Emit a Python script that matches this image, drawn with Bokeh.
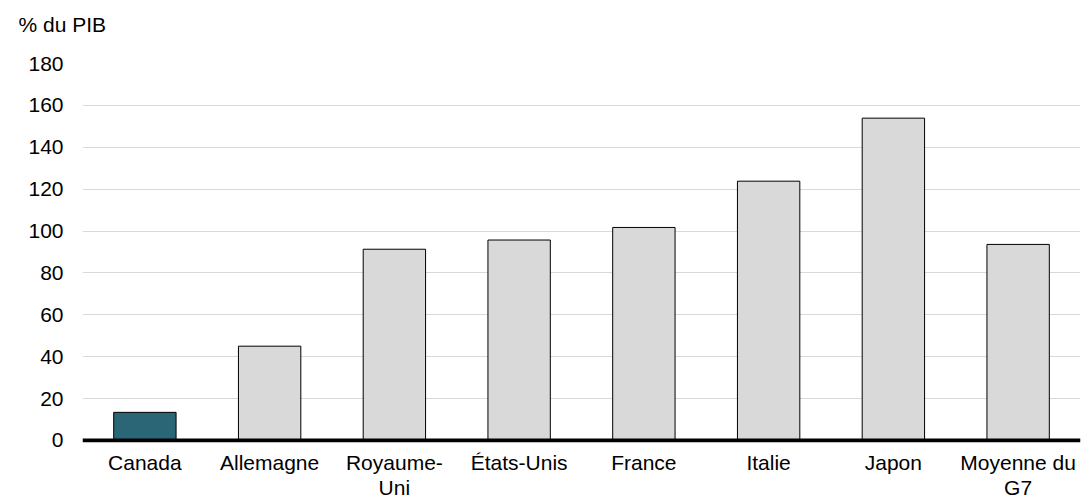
from bokeh.plotting import figure
from bokeh.models import ColumnDataSource, FactorRange, Range1d, Span, FixedTicker
from bokeh.embed import file_html
from bokeh.resources import INLINE

# Dette nette des administrations publiques, pays du G7 (% du PIB)
pays = ["Canada", "Allemagne", "Royaume-\nUni", "États-Unis", "France",
        "Italie", "Japon", "Moyenne du\nG7"]
dette = [13.4, 45.0, 91.3, 95.7, 101.7, 123.8, 153.9, 93.6]
couleurs = ["#2B6676", "#D9D9D9", "#D9D9D9", "#D9D9D9", "#D9D9D9",
            "#D9D9D9", "#D9D9D9", "#D9D9D9"]
graduations = [0, 20, 40, 60, 80, 100, 120, 140, 160, 180]

FONT = "Liberation Sans"
SIZE = "21px"

source = ColumnDataSource(dict(pays=pays, dette=dette, couleur=couleurs))

p = figure(
    width=1084, height=501,
    x_range=FactorRange(*pays, range_padding=0),
    y_range=Range1d(-1, 180),
    output_backend="svg", toolbar_location=None,
    min_border_left=82, min_border_right=4,
    min_border_top=63, min_border_bottom=59,
)

p.vbar(x="pays", top="dette", bottom=0, width=0.5, source=source,
       fill_color="couleur", line_color="black", line_width=1)

# axe du zéro
p.add_layout(Span(location=0, dimension="width", line_color="black", line_width=4))

# unité de l'axe vertical ; la ligne vide finale remonte le texte
p.title.text = "% du PIB\n"
p.title.text_font = FONT
p.title.text_font_size = SIZE
p.title.text_font_style = "normal"
p.title.text_color = "black"
p.title.align = "left"
p.title.offset = -64
p.title.standoff = 10

p.outline_line_color = None
p.xgrid.grid_line_color = None
p.ygrid.grid_line_color = "#D9D9D9"
p.ygrid.grid_line_width = 1

p.yaxis.ticker = FixedTicker(ticks=graduations)
p.yaxis.axis_line_color = None
p.yaxis.major_tick_line_color = None
p.yaxis.minor_tick_line_color = None
p.yaxis.major_tick_in = 0
p.yaxis.major_tick_out = 0
p.yaxis.major_label_standoff = 19
p.yaxis.major_label_text_font = FONT
p.yaxis.major_label_text_font_size = SIZE
p.yaxis.major_label_text_color = "black"

p.xaxis.axis_line_color = None
p.xaxis.major_tick_line_color = None
p.xaxis.major_tick_in = 0
p.xaxis.major_tick_out = 0
p.xaxis.major_label_standoff = 8
p.xaxis.major_label_text_font = FONT
p.xaxis.major_label_text_font_size = SIZE
p.xaxis.major_label_text_color = "black"
p.xaxis.major_label_text_line_height = 1.1

open("out.html", "w").write(file_html(p, INLINE))
